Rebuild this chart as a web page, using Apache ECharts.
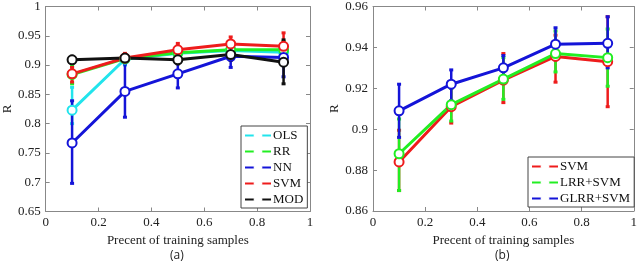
<!DOCTYPE html>
<html><head><meta charset="utf-8">
<script src="https://cdn.jsdelivr.net/npm/echarts@6/dist/echarts.min.js"></script>
<style>html,body{margin:0;padding:0;background:#fff}#c{width:640px;height:262px}</style>
</head><body><div id="c"></div>
<script>
// x positions (fraction of training samples)
const xs = [0.1, 0.3, 0.5, 0.7, 0.9];

// Panel (a)
const aNames = ['OLS', 'RR', 'NN', 'SVM', 'MOD'];
const aOLS = [0.823, 0.910, 0.920, 0.925, 0.922];
const aOLSlo = [0.800, 0.900, 0.910, 0.915, 0.905];
const aOLShi = [0.862, 0.918, 0.930, 0.932, 0.935];
const aRR = [0.884, 0.911, 0.921, 0.926, 0.926];
const aRRlo = [0.868, 0.904, 0.913, 0.918, 0.912];
const aRRhi = [0.898, 0.918, 0.930, 0.933, 0.940];
const aNN = [0.767, 0.855, 0.885, 0.915, 0.913];
const aNNlo = [0.698, 0.811, 0.861, 0.896, 0.880];
const aNNhi = [0.839, 0.902, 0.904, 0.925, 0.930];
const aSVM = [0.885, 0.912, 0.926, 0.936, 0.932];
const aSVMlo = [0.871, 0.905, 0.915, 0.926, 0.912];
const aSVMhi = [0.896, 0.920, 0.937, 0.948, 0.955];
const aMOD = [0.909, 0.912, 0.909, 0.918, 0.905];
const aMODlo = [0.903, 0.906, 0.902, 0.908, 0.868];
const aMODhi = [0.915, 0.918, 0.915, 0.926, 0.943];

// Panel (b)
const bNames = ['SVM', 'LRR+SVM', 'GLRR+SVM'];
const bSVM = [0.884, 0.911, 0.924, 0.9356, 0.933];
const bSVMlo = [0.870, 0.903, 0.913, 0.923, 0.911];
const bSVMhi = [0.8995, 0.920, 0.937, 0.946, 0.955];
const bLRR = [0.888, 0.912, 0.9245, 0.937, 0.935];
const bLRRlo = [0.870, 0.904, 0.9146, 0.928, 0.921];
const bLRRhi = [0.905, 0.920, 0.935, 0.948, 0.949];
const bGLRR = [0.909, 0.922, 0.930, 0.9416, 0.942];
const bGLRRlo = [0.896, 0.914, 0.925, 0.934, 0.930];
const bGLRRhi = [0.922, 0.929, 0.936, 0.9496, 0.955];

const C = {cyan:'#22e4ec', green:'#22ee22', blue:'#1414d8', red:'#ee1c1c', black:'#111111'};

const serif = 'Liberation Serif';
function makeAxes(gi, min, max, interval, showLabels, pos) {
  return {
    gridIndex: gi, type: 'value', min: min, max: max, interval: interval,
    position: pos,
    axisLine: {show: true, onZero: false, lineStyle: {color: '#888', width: 1}},
    axisTick: {show: true, inside: true, length: 4, lineStyle: {color: '#888'}},
    axisLabel: {show: showLabels, color: '#222', fontFamily: serif, fontSize: 13, margin: 5},
    splitLine: {show: false}
  };
}
const nameStyle = {fontFamily: serif, fontSize: 13, color: '#222'};
const xAxis = [], yAxis = [];
// grid 0
xAxis.push(Object.assign(makeAxes(0, 0, 1, 0.2, true, 'bottom'), {
  name: 'Precent of training samples', nameLocation: 'middle', nameGap: 18, nameTextStyle: nameStyle}));
xAxis.push(makeAxes(0, 0, 1, 0.2, false, 'top'));
yAxis.push(Object.assign(makeAxes(0, 0.65, 1, 0.05, true, 'left'), {
  name: 'R', nameLocation: 'middle', nameGap: 29, nameRotate: 90, nameTextStyle: nameStyle}));
yAxis.push(makeAxes(0, 0.65, 1, 0.05, false, 'right'));
// grid 1
xAxis.push(Object.assign(makeAxes(1, 0, 1, 0.2, true, 'bottom'), {
  name: 'Precent of training samples', nameLocation: 'middle', nameGap: 18, nameTextStyle: nameStyle}));
xAxis.push(makeAxes(1, 0, 1, 0.2, false, 'top'));
yAxis.push(Object.assign(makeAxes(1, 0.86, 0.96, 0.02, true, 'left'), {
  name: 'R', nameLocation: 'middle', nameGap: 32, nameRotate: 90, nameTextStyle: nameStyle}));
yAxis.push(makeAxes(1, 0.86, 0.96, 0.02, false, 'right'));

const series = [];
function addSeries(name, vals, lo, hi, color, xi, yi) {
  series.push({
    type: 'custom', name: name + '_err', xAxisIndex: xi, yAxisIndex: yi,
    data: xs.map((x, i) => [x, lo[i], hi[i]]),
    renderItem: function (params, api) {
      const p1 = api.coord([api.value(0), api.value(1)]);
      const p2 = api.coord([api.value(0), api.value(2)]);
      const s = {stroke: color, lineWidth: 2.5};
      return {type: 'group', children: [
        {type: 'line', shape: {x1: p1[0], y1: p1[1], x2: p2[0], y2: p2[1]}, style: s},
        {type: 'rect', shape: {x: p1[0] - 2, y: p1[1] - 1.5, width: 4, height: 3}, style: {fill: color}},
        {type: 'rect', shape: {x: p2[0] - 2, y: p2[1] - 1.5, width: 4, height: 3}, style: {fill: color}}
      ]};
    },
    silent: true, animation: false
  });
  series.push({
    type: 'line', name: name, xAxisIndex: xi, yAxisIndex: yi,
    data: xs.map((x, i) => [x, vals[i]]),
    symbol: 'emptyCircle', symbolSize: 9,
    lineStyle: {color: color, width: 3},
    itemStyle: {color: color, borderColor: color, borderWidth: 2.2},
    animation: false
  });
}
addSeries('OLS', aOLS, aOLSlo, aOLShi, C.cyan, 0, 0);
addSeries('RR', aRR, aRRlo, aRRhi, C.green, 0, 0);
addSeries('NN', aNN, aNNlo, aNNhi, C.blue, 0, 0);
addSeries('SVM', aSVM, aSVMlo, aSVMhi, C.red, 0, 0);
addSeries('MOD', aMOD, aMODlo, aMODhi, C.black, 0, 0);
addSeries('SVM', bSVM, bSVMlo, bSVMhi, C.red, 2, 2);
addSeries('LRR+SVM', bLRR, bLRRlo, bLRRhi, C.green, 2, 2);
addSeries('GLRR+SVM', bGLRR, bGLRRlo, bGLRRhi, C.blue, 2, 2);

const legendCommon = {
  orient: 'vertical', backgroundColor: '#fff', borderColor: '#444', borderWidth: 1,
  itemWidth: 26, itemHeight: 10, itemGap: 3, padding: [3, 4, 2, 3],
  textStyle: {fontFamily: serif, fontSize: 13, color: '#111', padding: [0, 0, 0, -3]},
  itemStyle: {borderColor: '#777', borderWidth: 1.2, color: 'rgba(255,255,255,0.3)'},
  selectedMode: false
};

const chart = echarts.init(document.getElementById('c'));
chart.setOption({
  animation: false,
  grid: [
    {left: 45, right: 330, top: 6, bottom: 50.5, show: false},
    {left: 373, right: 6, top: 6, bottom: 51, show: false}
  ],
  xAxis: xAxis, yAxis: yAxis,
  legend: [
    Object.assign({}, legendCommon, {data: aNames, left: 241, top: 126}),
    Object.assign({}, legendCommon, {data: bNames, left: 528, top: 157})
  ],
  graphic: [
    {type: 'text', left: 170, top: 250, style: {text: '(a)', font: '12px "Open Sans"', fill: '#222'}},
    {type: 'text', left: 495, top: 250, style: {text: '(b)', font: '12px "Open Sans"', fill: '#222'}}
  ],
  series: series
});
</script></body></html>
